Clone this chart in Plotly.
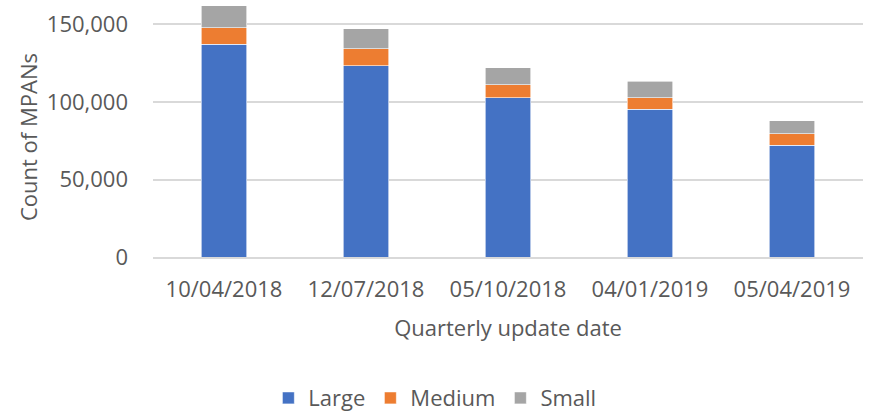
import plotly.graph_objects as go

categories = ["10/04/2018", "12/07/2018", "05/10/2018", "04/01/2019", "05/04/2019"]
large = [137200, 123400, 102600, 95300, 72100]
medium = [10700, 11000, 8600, 7500, 7400]
small = [14200, 12700, 10900, 10500, 8400]
y_ticks = [0, 50000, 100000, 150000]

FONT = "Open Sans"
TXT = "#595959"
FS = 22

fig = go.Figure()
for name, vals, col in [("Large", large, "#4472C4"),
                        ("Medium", medium, "#ED7D31"),
                        ("Small", small, "#A5A5A5")]:
    fig.add_trace(go.Bar(x=categories, y=vals, name=name,
                         marker=dict(color=col, line=dict(color="white", width=0.6))))

fig.update_layout(
    width=876, height=419,
    barmode="stack", bargap=0.683,
    plot_bgcolor="white", paper_bgcolor="white",
    margin=dict(l=153, r=13, t=0, b=162, autoexpand=False),
    font=dict(family=FONT, size=FS, color=TXT),
    showlegend=True,
    legend=dict(orientation="h", x=0.397, xanchor="center", y=-0.549, yanchor="middle",
                font=dict(family=FONT, size=FS, color=TXT), itemwidth=30,
                traceorder="normal"),
    xaxis=dict(showgrid=False, showline=True, linecolor="#D9D9D9", linewidth=1.5,
               ticks="", ticklabelstandoff=12, automargin=False,
               title=dict(text="Quarterly update date", standoff=18,
                          font=dict(family=FONT, size=FS, color=TXT))),
    yaxis=dict(range=[0, 165800], tickvals=y_ticks, tickformat=",",
               showgrid=True, gridcolor="#D9D9D9", gridwidth=1.5,
               zeroline=False, ticks="", ticklabelstandoff=24,
               showline=False, automargin=False),
    annotations=[dict(text="Count of MPANs", xref="paper", yref="paper",
                      x=-0.176, y=0.467, xanchor="center", yanchor="middle",
                      textangle=-90, showarrow=False,
                      font=dict(family=FONT, size=FS, color=TXT))],
)

fig.write_html("out.html", config={"displayModeBar": False},
               post_script="document.body.style.margin='0';")
